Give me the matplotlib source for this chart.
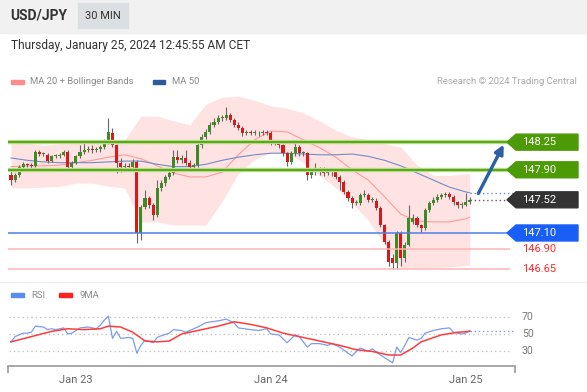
import numpy as np
import pandas as pd
import matplotlib
matplotlib.use('Agg')
import matplotlib.pyplot as plt
from matplotlib.patches import Rectangle, Polygon

plt.rcParams['font.family'] = ['Roboto', 'DejaVu Sans']

# ---- candles (30 min, starting Jan 22 16:00) ----
opens = [147.83, 147.77, 147.83, 147.94, 147.97, 147.96, 147.95, 148.13, 148.10, 148.09,
         148.01, 148.07, 148.07, 148.09, 148.13, 147.94, 147.99, 148.07, 148.12, 148.15,
         148.16, 148.15, 148.16, 148.19, 148.25, 148.37, 148.21, 147.99, 147.94, 147.95,
         147.94, 148.00, 147.10, 147.43, 147.54, 147.45, 147.33, 147.67, 147.73, 147.81,
         147.86, 148.06, 148.02, 148.05, 147.99, 147.94, 147.96, 148.21, 148.32, 148.38,
         148.47, 148.51, 148.56, 148.56, 148.59, 148.53, 148.47, 148.43, 148.37, 148.38,
         148.37, 148.37, 148.36, 148.38, 148.37, 148.25, 148.25, 148.21, 148.11, 148.00,
         148.11, 148.19, 148.11, 148.11, 147.83, 147.87, 147.87, 147.90, 147.86, 147.87,
         147.87, 147.81, 147.75, 147.62, 147.54, 147.48, 147.48, 147.58, 147.58, 147.52,
         147.51, 147.42, 147.20, 146.99, 146.78, 146.72, 147.10, 146.78, 146.95, 147.24,
         147.29, 147.20, 147.16, 147.39, 147.48, 147.52, 147.56, 147.58, 147.59, 147.56,
         147.49, 147.45, 147.46, 147.49]
closes = [147.77, 147.83, 147.94, 147.97, 147.96, 147.95, 148.13, 148.10, 148.10, 148.01,
          148.07, 148.07, 148.09, 148.13, 147.94, 147.99, 148.07, 148.12, 148.15, 148.16,
          148.15, 148.16, 148.19, 148.25, 148.38, 148.21, 147.99, 147.94, 147.95, 147.94,
          148.00, 147.10, 147.43, 147.54, 147.45, 147.33, 147.67, 147.73, 147.81, 147.86,
          148.06, 148.02, 148.05, 147.99, 147.94, 147.96, 148.21, 148.32, 148.38, 148.47,
          148.51, 148.56, 148.56, 148.59, 148.53, 148.47, 148.43, 148.37, 148.38, 148.37,
          148.37, 148.36, 148.38, 148.37, 148.25, 148.25, 148.21, 148.11, 148.00, 148.11,
          148.19, 148.11, 148.11, 147.83, 147.87, 147.87, 147.90, 147.86, 147.87, 147.87,
          147.81, 147.75, 147.62, 147.54, 147.48, 147.48, 147.58, 147.58, 147.52, 147.52,
          147.42, 147.20, 146.99, 146.73, 146.72, 147.10, 146.78, 146.95, 147.29, 147.29,
          147.20, 147.16, 147.39, 147.48, 147.52, 147.56, 147.58, 147.59, 147.56, 147.49,
          147.45, 147.46, 147.49, 147.52]
highs = [147.88, 147.86, 147.96, 148.00, 147.99, 147.98, 148.15, 148.15, 148.13, 148.11,
         148.09, 148.10, 148.11, 148.15, 148.15, 148.01, 148.09, 148.21, 148.24, 148.20,
         148.22, 148.19, 148.22, 148.29, 148.56, 148.43, 148.23, 148.05, 147.99, 147.98,
         148.04, 148.02, 147.46, 147.64, 147.57, 147.48, 147.77, 147.77, 147.84, 147.89,
         148.15, 148.15, 148.09, 148.15, 148.02, 147.99, 148.24, 148.35, 148.42, 148.50,
         148.55, 148.59, 148.59, 148.70, 148.62, 148.56, 148.50, 148.46, 148.41, 148.40,
         148.40, 148.39, 148.41, 148.40, 148.39, 148.28, 148.27, 148.23, 148.13, 148.14,
         148.25, 148.21, 148.14, 148.13, 147.90, 147.99, 147.93, 147.93, 147.92, 147.90,
         147.89, 147.83, 147.77, 147.64, 147.57, 147.52, 147.61, 147.64, 147.61, 147.56,
         147.54, 147.44, 147.22, 147.01, 146.84, 147.13, 147.12, 146.98, 147.45, 147.34,
         147.32, 147.22, 147.42, 147.51, 147.55, 147.59, 147.61, 147.62, 147.62, 147.58,
         147.51, 147.49, 147.61, 147.55]
lows = [147.71, 147.75, 147.81, 147.92, 147.93, 147.92, 147.94, 148.08, 148.07, 147.99,
        148.00, 148.05, 148.05, 148.07, 147.90, 147.91, 147.97, 148.05, 148.10, 148.12,
        148.11, 148.12, 148.13, 148.16, 148.23, 148.19, 147.86, 147.87, 147.90, 147.88,
        147.90, 146.97, 147.01, 147.40, 147.42, 147.26, 147.30, 147.63, 147.70, 147.78,
        147.84, 147.99, 147.98, 147.96, 147.91, 147.90, 147.94, 148.18, 148.29, 148.35,
        148.44, 148.48, 148.52, 148.53, 148.50, 148.44, 148.40, 148.33, 148.34, 148.34,
        148.34, 148.33, 148.34, 148.34, 148.22, 148.22, 148.18, 148.08, 147.95, 147.97,
        148.08, 148.08, 148.08, 147.77, 147.80, 147.83, 147.84, 147.82, 147.83, 147.82,
        147.78, 147.64, 147.59, 147.50, 147.42, 147.45, 147.45, 147.55, 147.49, 147.49,
        147.39, 147.17, 146.96, 146.68, 146.64, 146.64, 146.68, 146.73, 146.93, 147.21,
        147.17, 147.11, 147.14, 147.36, 147.45, 147.49, 147.53, 147.55, 147.53, 147.46,
        147.42, 147.42, 147.44, 147.47]

# ---- indicators, read every 4 candles ----
band_idx = [0, 4, 8, 12, 16, 20, 24, 28, 32, 36, 40, 44, 48, 52, 56, 60, 64, 68, 72, 76,
            80, 84, 88, 92, 96, 100, 104, 108, 112, 113]
bb_upper = [148.24, 148.24, 148.21, 148.23, 148.24, 148.25, 148.28, 148.28, 148.58, 148.58,
            148.52, 148.47, 148.73, 148.82, 148.83, 148.78, 148.71, 148.68, 148.62, 148.52,
            148.40, 148.32, 148.28, 148.23, 148.19, 147.96, 147.83, 147.83, 147.85, 147.85]
bb_lower = [147.67, 147.67, 147.68, 147.69, 147.73, 147.73, 147.69, 147.67, 147.24, 147.24,
            147.20, 147.20, 147.20, 147.50, 147.85, 148.03, 148.12, 148.12, 147.99, 147.83,
            147.67, 147.48, 147.26, 146.95, 146.66, 146.66, 146.66, 146.67, 146.69, 146.69]
ma20 = [147.94, 147.95, 147.95, 147.96, 147.99, 148.02, 148.06, 148.09, 148.04, 147.95,
        147.86, 147.81, 147.81, 147.87, 148.09, 148.28, 148.39, 148.38, 148.28, 148.18,
        148.06, 147.90, 147.77, 147.56, 147.34, 147.25, 147.24, 147.24, 147.28, 147.30]
ma50 = [148.05, 148.02, 148.00, 147.99, 147.99, 147.99, 148.00, 148.01, 148.01, 147.97,
        147.94, 147.94, 147.97, 148.02, 148.06, 148.09, 148.11, 148.11, 148.10, 148.09,
        148.09, 148.10, 148.07, 148.02, 147.95, 147.86, 147.77, 147.68, 147.62, 147.61]

# ---- key levels ----
resistances = [148.25, 147.90]
support = 147.10
targets_low = [146.90, 146.65]

# ---- RSI panel ----
rsi_idx = [0, 1, 3, 4, 5, 6, 8, 9, 10, 11, 13, 14, 15, 17, 19, 21, 22, 23, 24, 25, 26, 27,
           29, 30, 31, 32, 33, 35, 36, 37, 39, 40, 42, 43, 46, 48, 51, 53, 55, 56, 59, 61,
           63, 64, 66, 68, 70, 71, 73, 74, 76, 78, 79, 81, 83, 84, 86, 88, 89, 91, 93, 94,
           95, 96, 97, 98, 100, 101, 102, 104, 106, 108, 109, 111, 112, 113]
rsi = [41, 47, 51, 51, 52, 59, 58, 55, 56, 55, 57, 50, 51, 57, 58, 56, 60, 66, 70.5, 45, 53, 45,
       46, 45, 28, 37, 43, 40, 46, 48, 51, 55, 54, 52, 58, 63, 65, 67, 62.5, 57, 55, 54,
       56, 50, 49, 40, 49, 47, 35, 39, 39, 37, 39, 35, 28, 25, 34, 30, 33, 26, 20, 17,
       35, 29, 37, 46, 43, 45, 51, 54, 56, 57, 52, 50, 51, 54]
ma9_idx = [0, 5, 10, 14, 18, 22, 24, 27, 30, 33, 36, 39, 42, 47, 51, 55, 59, 63, 67, 71,
           77, 81, 85, 89, 93, 96, 99, 101, 106, 110, 113]
rsi_ma9 = [41, 47, 53, 56, 55, 56, 59, 58, 52, 42, 41, 42, 50, 55, 59, 64, 61, 57, 51, 47,
           41, 37, 32, 30, 26, 26, 34, 41, 49, 52, 53]
rsi_levels = [70, 50, 30]

o = np.array(opens)
c = np.array(closes)
n = len(c)
idx = np.arange(n)
times = pd.date_range('2024-01-22 16:00', periods=n, freq='30min')
midnights = np.where((times.hour == 0) & (times.minute == 0))[0]

W, H = 587, 392
fig = plt.figure(figsize=(W / 100, H / 100), dpi=100)
fig.patch.set_facecolor('white')


def fx(px):
    return px / W


def fy(py):
    return 1 - py / H


def px2i(px):
    # candle index at a pixel column (11 px + 4.06 px per candle)
    return (px - 11) / 4.06


# header
fig.patches.append(Rectangle((0, fy(33)), 1, 33 / H, transform=fig.transFigure,
                             color='#f1f1f1', zorder=0))
fig.patches.append(Rectangle((fx(78), fy(28)), 50 / W, 25 / H, transform=fig.transFigure,
                             color='#dcdfe2', zorder=1))
fig.text(fx(10), fy(16), 'USD/JPY', fontsize=10, fontweight='bold', color='#333333', va='center')
fig.text(fx(103), fy(16), '30 MIN', fontsize=8, color='#333333', va='center', ha='center')
fig.text(fx(11), fy(45), 'Thursday, January 25, 2024 12:45:55 AM CET', fontsize=8.6,
         color='#333333', va='center')

# legends
fig.patches.append(Rectangle((fx(11), fy(84)), 13 / W, 4 / H, transform=fig.transFigure,
                             color='#ff8c8c'))
fig.text(fx(30), fy(82), 'MA 20 + Bollinger Bands', fontsize=6.8, color='#8a8a8a', va='center')
fig.patches.append(Rectangle((fx(153), fy(84)), 12 / W, 4 / H, transform=fig.transFigure,
                             color='#2d5a9e'))
fig.text(fx(172), fy(82), 'MA 50', fontsize=6.8, color='#8a8a8a', va='center')
fig.text(fx(577), fy(82), 'Research \u00a9 2024 Trading Central', fontsize=6.8, color='#aaaaaa',
         va='center', ha='right')

fig.patches.append(Rectangle((fx(11), fy(297)), 13 / W, 4 / H, transform=fig.transFigure,
                             color='#5b8def'))
fig.text(fx(31), fy(295), 'RSI', fontsize=6.8, color='#8a8a8a', va='center')
fig.patches.append(Rectangle((fx(59), fy(297)), 13 / W, 4 / H, transform=fig.transFigure,
                             color='#ff2020'))
fig.text(fx(79), fy(295), '9MA', fontsize=6.8, color='#8a8a8a', va='center')
fig.lines.append(plt.Line2D([0, 1], [fy(282), fy(282)], transform=fig.transFigure,
                            color='#eeeeee', lw=1))

# main price chart
ax = fig.add_axes([fx(8), fy(275), 507 / W, 180 / H])
x0, x1 = px2i(8), px2i(515)
ax.set_xlim(x0, x1)
ax.set_ylim(146.568, 148.847)
ax.axis('off')

ax.fill_between(band_idx, bb_lower, bb_upper, color='#ffe3e3', lw=0, zorder=1)
ax.plot(band_idx, ma20, color='#ff9b9b', lw=0.8, zorder=2)
ax.plot(band_idx, ma50, color='#6d8cc8', lw=0.8, zorder=2)

ax.vlines(idx, lows, highs, color='#666666', lw=0.8, zorder=3)
colors = np.where(c >= o, '#3c8b24', '#d9181c')
ax.bar(idx, np.maximum(np.abs(c - o), 0.012), bottom=np.minimum(o, c), width=0.75,
       color=colors, lw=0, zorder=4)

line_end = px2i(510)
for lv in resistances:
    ax.hlines(lv, x0, line_end, color='#bfe39a', lw=3.2, zorder=5)
    ax.hlines(lv, x0, line_end, color='#5ea61a', lw=1.6, zorder=6)
ax.hlines(support, x0, line_end, color='#4a80e8', lw=1.1, zorder=5)
for lv in targets_low:
    ax.hlines(lv, x0, line_end, color='#ffb3b3', lw=1.1, zorder=5)

# dotted guides from the last candle
ax.hlines(c[-1], n - 1, px2i(513), color='#555555', lw=1, linestyles=(0, (1, 2)), zorder=5)
ax.hlines(ma50[-1], n - 1, px2i(513), color='#6d8cc8', lw=1, linestyles=(0, (1, 2)), zorder=5)

# projection arrow
ax.annotate('', xy=(px2i(505), resistances[0]), xytext=(n + 0.8, c[-1] + 0.05),
            arrowprops=dict(arrowstyle='-|>', color='#2b5fa6', lw=2.4, mutation_scale=13),
            zorder=7, annotation_clip=False)

# price tags
hh = 8 / 79.0
tip, body, right, txt = px2i(507), px2i(516), px2i(578), px2i(522)
tags = [(resistances[0], '#4c9a06'), (resistances[1], '#4c9a06'),
        (c[-1], '#333333'), (support, '#1a5ff5')]
for v, col in tags:
    ax.add_patch(Polygon([(tip, v), (body, v + hh), (right, v + hh), (right, v - hh),
                          (body, v - hh)], closed=True, color=col, clip_on=False, zorder=8))
    ax.text(txt, v, f'{v:.2f}', color='white', fontsize=8, va='center', ha='left',
            clip_on=False, zorder=9)
for v in targets_low:
    ax.text(txt, v, f'{v:.2f}', color='#ff2a2a', fontsize=8, va='center', ha='left',
            clip_on=False)

# RSI chart
ax2 = fig.add_axes([fx(8), fy(366), 507 / W, 66 / H])
ax2.set_xlim(x0, x1)
ax2.set_ylim(13.4, 88.9)
for s in ['top', 'left', 'right']:
    ax2.spines[s].set_visible(False)
ax2.spines['bottom'].set_color('#9a9a9a')
ax2.spines['bottom'].set_linewidth(1.2)
ax2.set_yticks([])
ax2.set_xticks(midnights)
ax2.set_xticklabels([t.strftime('%b %d').replace(' 0', ' ') for t in times[midnights]])
ax2.tick_params(axis='x', which='major', length=0, labelsize=8, labelcolor='#666666', pad=6.5)
ax2.set_xticks([x0 + 0.05, x1 - 0.05], minor=True)
ax2.tick_params(axis='x', which='minor', length=5, width=1.2, color='#9a9a9a')

ax2.hlines(rsi_levels, x0 + 0.3, px2i(512), color='#bdbdbd', lw=0.9, linestyles=(0, (1, 2.5)))
for lv in rsi_levels:
    ax2.text(txt, lv, str(lv), color='#777777', fontsize=7.5, va='center', ha='left',
             clip_on=False)
ax2.hlines(rsi[-1], n - 1, px2i(515), color='#7c9ef0', lw=1, linestyles=(0, (1, 2)))
ax2.plot(rsi_idx, rsi, color='#7b9cf0', lw=0.9, zorder=3)
ax2.plot(ma9_idx, rsi_ma9, color='#ff3b3b', lw=1.1, zorder=4)

fig.savefig('out.png', dpi=100)
